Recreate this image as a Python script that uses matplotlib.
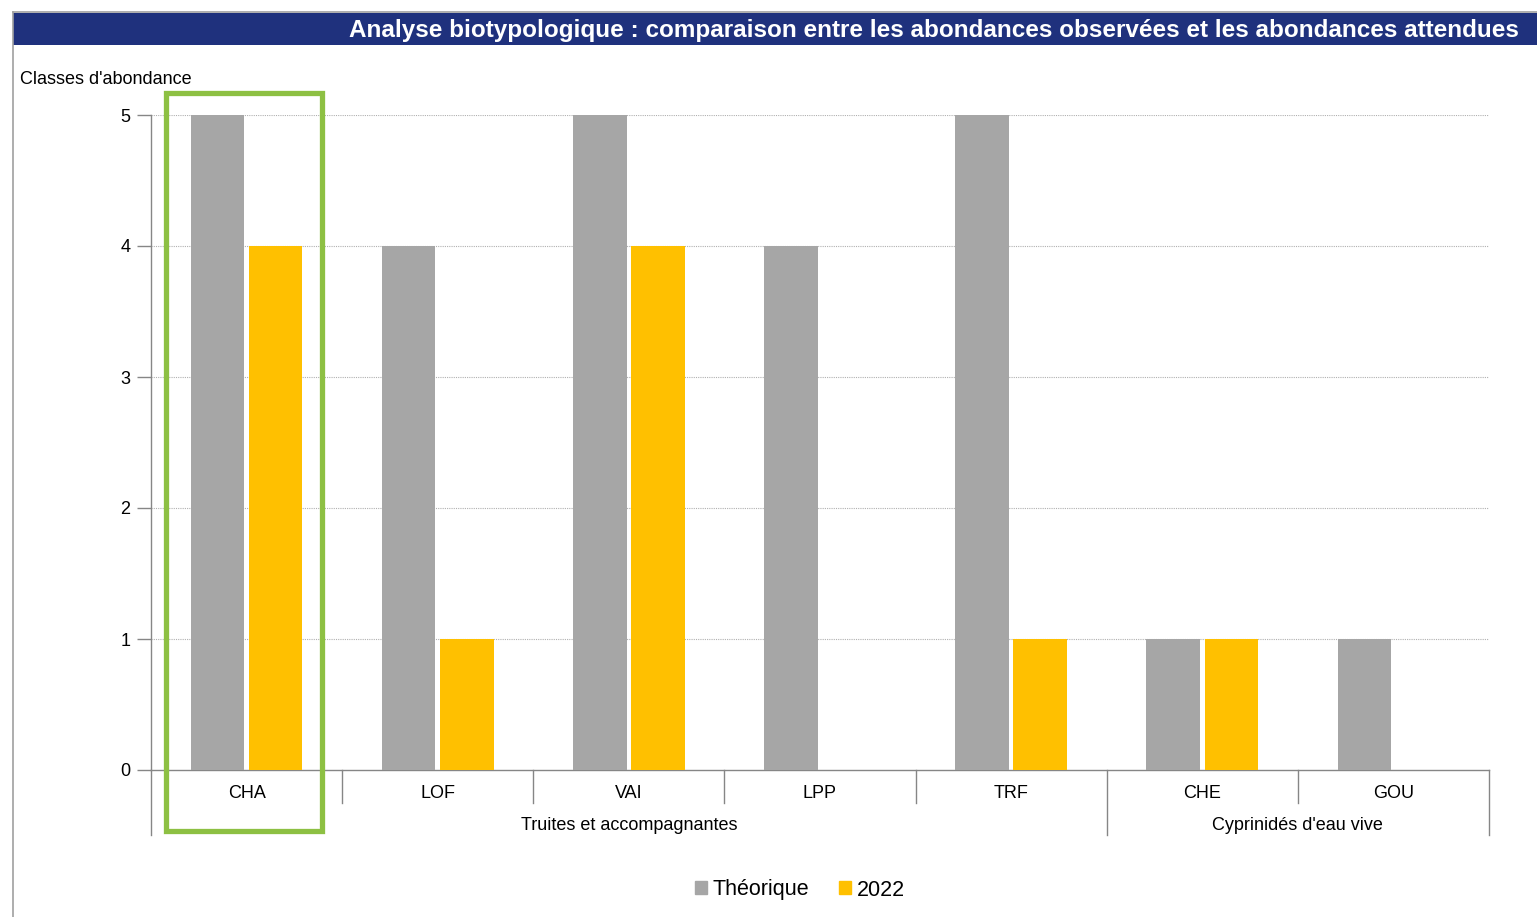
import matplotlib.pyplot as plt
from matplotlib.patches import Rectangle
from matplotlib.lines import Line2D
import numpy as np

plt.rcParams['font.family'] = ['Liberation Sans', 'DejaVu Sans']

categories = ['CHA', 'LOF', 'VAI', 'LPP', 'TRF', 'CHE', 'GOU']
theorique = [5, 4, 5, 4, 5, 1, 1]
obs_2022 = [4, 1, 4, 0, 1, 1, 0]
groups = ["Truites et accompagnantes", "Cyprinidés d'eau vive"]
group_spans = [(0, 4), (5, 6)]
series_names = ['Théorique', '2022']
highlight = 'CHA'

grey = '#A6A6A6'
yellow = '#FFC000'
axis_col = '#868686'

fig = plt.figure(figsize=(15.37, 9.17), dpi=100)

# frame + title bar
fig.add_artist(Line2D([13/1537, 13/1537], [0, 1 - 12/917], color='#A0A0A0', lw=1.2))
fig.add_artist(Line2D([13/1537, 1], [1 - 12/917, 1 - 12/917], color='#A0A0A0', lw=1.2))
fig.add_artist(Rectangle((13/1537, 1 - 45/917), 1 - 13/1537, 32/917,
                         transform=fig.transFigure, color='#1F317D', lw=0))
fig.text(1519/1537, 1 - 30/917,
         "Analyse biotypologique : comparaison entre les abondances observées et les abondances attendues",
         color='white', fontsize=17.5, fontweight='bold', ha='right', va='center')

ax = fig.add_axes([151/1537, 1 - 770/917, 1338/1537, 655/917])
x = np.arange(len(categories))
w = 0.28
ax.bar(x - 0.152, theorique, w, color=grey, zorder=3)
ax.bar(x + 0.152, obs_2022, w, color=yellow, zorder=3)

ax.set_xlim(-0.5, len(categories) - 0.5)
ax.set_ylim(0, 5)
ax.set_yticks(range(6))
ax.tick_params(axis='y', length=10, width=1, color=axis_col, labelsize=13, pad=5)
ax.set_xticks([])
for s in ['top', 'right']:
    ax.spines[s].set_visible(False)
for s in ['left', 'bottom']:
    ax.spines[s].set_color(axis_col)
    ax.spines[s].set_linewidth(1)
for yv in range(1, 6):
    ax.axhline(yv, color='#B0B0B0', lw=0.8, ls=(0, (1, 1)), zorder=1)

fig.text(20/1537, 1 - 79/917, "Classes d'abondance", fontsize=13, ha='left', va='center')

# category axis with two levels
tr = ax.get_xaxis_transform()
y1 = -33/655
y2 = -65/655
for i, c in enumerate(categories):
    ax.text(i, -23/655, c, transform=tr, ha='center', va='center', fontsize=13)
bounds_group = [group_spans[0][0] - 0.5] + [g[1] + 0.5 for g in group_spans]
for b in np.arange(-0.5, len(categories)):
    yb = y2 if b in bounds_group else y1
    ax.plot([b, b], [0, yb], transform=tr, color=axis_col, lw=1, clip_on=False)
for g, (a, b) in zip(groups, group_spans):
    ax.text((a + b) / 2, -55/655, g, transform=tr, ha='center', va='center', fontsize=13)

# highlight box
hi = categories.index(highlight)
ax.add_patch(Rectangle((hi - 0.4215, -0.466), 0.816, 5.634, fill=False,
                       edgecolor='#8DC043', lw=3.8, clip_on=False, zorder=5))

handles = [Rectangle((0, 0), 1, 1, color=grey), Rectangle((0, 0), 1, 1, color=yellow)]
fig.legend(handles, series_names, loc='center', bbox_to_anchor=(800/1537, 1 - 890/917),
           ncol=2, frameon=False, fontsize=15.5, handlelength=0.55, handleheight=0.55,
           handletextpad=0.25, columnspacing=1.4)

plt.savefig('out.png', dpi=100)
